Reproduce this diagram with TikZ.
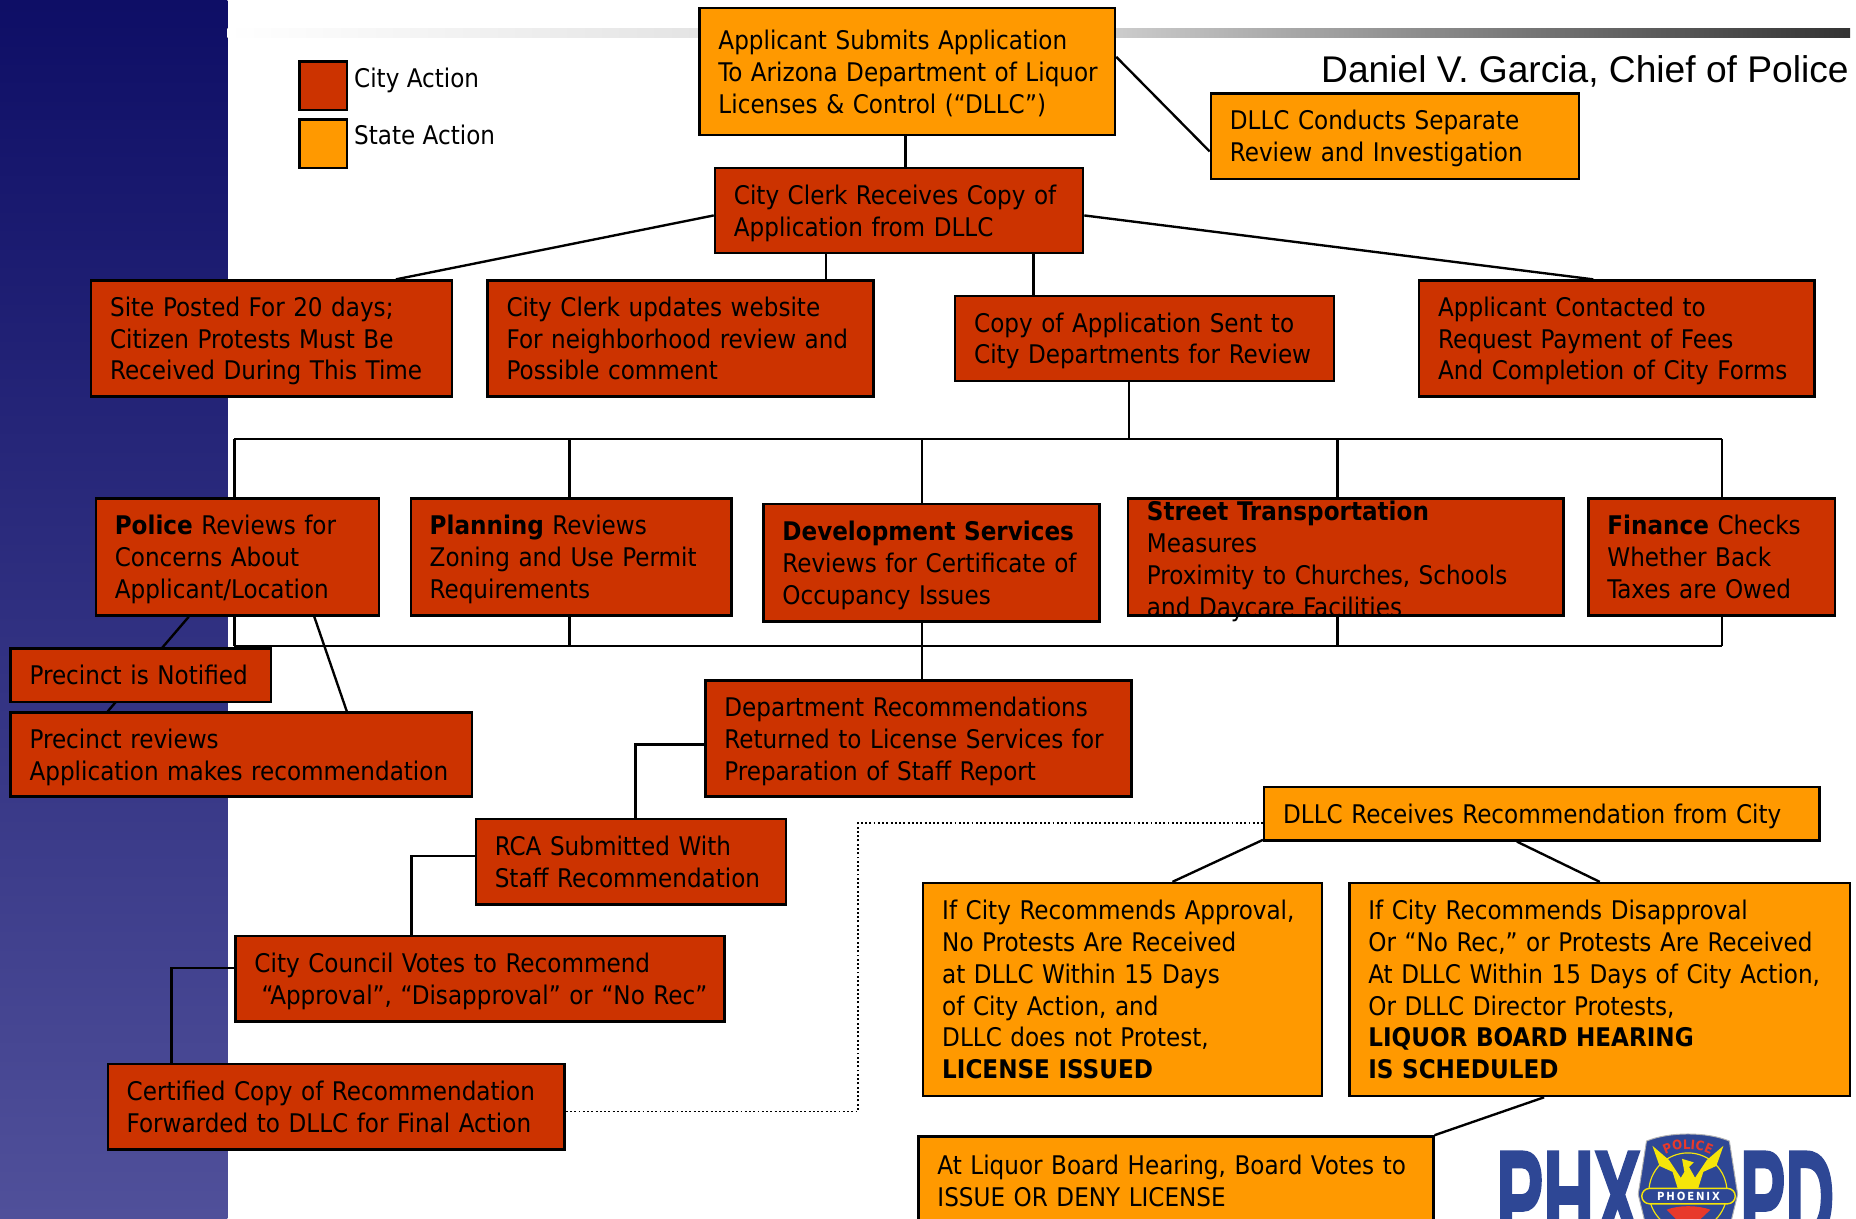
\documentclass[tikz,border=0pt]{standalone}
\usepackage{fontspec}
\setmainfont{DejaVu Sans Condensed}
\newfontfamily\titlefont{Liberation Sans}
\newfontfamily\logofont{Liberation Sans Bold}[FakeBold=2.5]
\usetikzlibrary{backgrounds,shadows,decorations.text}
\definecolor{cityred}{HTML}{CC3300}
\definecolor{stateorange}{HTML}{FF9900}
\definecolor{stripnavy}{HTML}{0E0E66}
\definecolor{stripblue}{HTML}{50509A}
\definecolor{barlight}{HTML}{CCCCCC}
\definecolor{bardark}{HTML}{333333}
\definecolor{logoblue}{HTML}{2E4795}
\definecolor{logoyellow}{HTML}{F5E50A}
\definecolor{logored}{HTML}{E8392B}
\tikzset{
  lines/.style={align=left,font=\fontsize{21.7}{27}\selectfont,
    execute at begin node={\rule{0pt}{22pt}},execute at end node={\rule[-6pt]{0pt}{6pt}}},
  action/.style={lines,rectangle,draw=black,line width=2pt,anchor=north west,inner xsep=16pt,inner ysep=0pt,
    general shadow={fill=black!35,shadow xshift=.8pt,shadow yshift=-.8pt}},
  city/.style={action,fill=cityred},
  state/.style={action,fill=stateorange},
  swatch/.style={rectangle,draw=black,line width=2pt,anchor=north west,minimum width=40pt,minimum height=41pt},
  label/.style={anchor=west,inner sep=0pt,font=\fontsize{21.7}{27}\selectfont},
  link/.style={draw=black,line width=2pt}
}
\begin{document}
\begin{tikzpicture}[x=1pt,y=-1pt]
  \useasboundingbox (0,0) rectangle (1568,1029);

  \node[swatch,fill=cityred] (citykey) at (252,51) {};
  \node[swatch,fill=stateorange] (statekey) at (252,100) {};
  \node[label] (citylabel) at (299,68) {City Action};
  \node[label] (statelabel) at (299,114) {State Action};
  \node[anchor=east,inner sep=0pt,font=\titlefont\fontsize{31.4}{36}\selectfont] (chief) at (1562,60) {Daniel V. Garcia, Chief of Police};

  \node[state,text width=319pt,minimum height=107pt] (submit) at (590,6) {Applicant Submits Application\\\mbox{To Arizona Department of Liquor}\\Licenses \& Control (“DLLC”)};
  \node[state,text width=279pt,minimum height=72pt] (dllc) at (1022,78) {DLLC Conducts Separate\\Review and Investigation};
  \node[city,text width=279pt,minimum height=72pt] (clerk) at (603,141) {City Clerk Receives Copy of\\Application from DLLC};

  \node[city,text width=273pt,minimum height=98pt] (site) at (76,236) {Site Posted For 20 days;\\Citizen Protests Must Be\\Received During This Time};
  \node[city,text width=294pt,minimum height=98pt] (website) at (411,236) {City Clerk updates website\\For neighborhood review and\\Possible comment};
  \node[city,text width=288pt,minimum height=72pt] (copy) at (806,249) {Copy of Application Sent to\\City Departments for Review};
  \node[city,text width=302pt,minimum height=98pt] (contact) at (1198,236) {Applicant Contacted to\\Request Payment of Fees\\And Completion of City Forms};

  \node[city,text width=207pt,minimum height=99pt] (police) at (80,420) {\textbf{Police} Reviews for\\Concerns About\\Applicant/Location};
  \node[city,text width=239pt,minimum height=99pt] (planning) at (346,420) {\textbf{Planning} Reviews\\Zoning and Use Permit\\Requirements};
  \node[city,text width=252pt,minimum height=99pt] (dev) at (644,425) {\textbf{Development Services}\\Reviews for Certificate of\\Occupancy Issues};
  \node[city,execute at begin node={},execute at end node={},text width=336pt,minimum height=99pt] (street) at (952,420) {};
  \node[lines,anchor=center,inner sep=0pt,text width=336pt] (streettext) at ([yshift=-2pt]street.center) {\textbf{Street Transportation}\\Measures\\Proximity to Churches, Schools\\and Daycare Facilities};
  \node[city,text width=176pt,minimum height=99pt] (finance) at (1341,420) {\textbf{Finance} Checks\\Whether Back\\Taxes are Owed};

  \node[city,text width=188pt,minimum height=45pt] (notified) at (8,547) {Precinct is Notified};
  \node[city,text width=358pt,minimum height=71pt] (reviews) at (8,601) {Precinct reviews\\Application makes recommendation};
  \node[city,text width=328pt,minimum height=98pt] (returned) at (595,574) {Department Recommendations\\Returned to License Services for\\Preparation of Staff Report};
  \node[city,text width=230pt,minimum height=72pt] (rca) at (401,691) {RCA Submitted With\\Staff Recommendation};
  \node[city,text width=381pt,minimum height=72pt] (council) at (198,790) {City Council Votes to Recommend\\\mbox{\hspace*{6pt}“Approval”, “Disapproval” or “No Rec”}};
  \node[city,text width=354pt,minimum height=72pt] (certified) at (90,898) {Certified Copy of Recommendation\\Forwarded to DLLC for Final Action};

  \node[state,text width=437pt,minimum height=45pt] (receives) at (1067,664) {DLLC Receives Recommendation from City};
  \node[state,text width=305pt,minimum height=180pt] (approval) at (779,745) {If City Recommends Approval,\\No Protests Are Received\\at DLLC Within 15 Days\\of City Action, and\\DLLC does not Protest,\\\textbf{LICENSE ISSUED}};
  \node[state,text width=391pt,minimum height=180pt] (disapproval) at (1139,745) {If City Recommends Disapproval\\Or “No Rec,” or Protests Are Received\\At DLLC Within 15 Days of City Action,\\Or DLLC Director Protests,\\\textbf{LIQUOR BOARD HEARING}\\\textbf{IS SCHEDULED}};
  \node[state,text width=403pt,minimum height=75pt] (board) at (775,959) {At Liquor Board Hearing, Board Votes to\\ISSUE OR DENY LICENSE};

  \begin{scope}[on background layer]
    \fill[top color=stripnavy,bottom color=stripblue] (0,0) rectangle (192,1029);
    \fill[left color=white,right color=barlight] (192,24) rectangle (942,32);
    \fill[left color=barlight,right color=bardark] (942,24) rectangle (1563,32);

    \coordinate (bustop) at (954,371);
    \coordinate (busbottom) at (779,546);
    \coordinate (dotcorner) at (725,695);

    \draw[link] (765,0 |- submit.south) -- (765,0 |- clerk.north);
    \draw[link] ([yshift=12.5pt]submit.east) -- ([yshift=-13pt]dllc.west);
    \draw[link] ([yshift=-4pt]clerk.west) -- ([xshift=105pt]site.north);
    \draw[link] (698,0 |- clerk.south) -- (698,0 |- website.north);
    \draw[link] (873,0 |- clerk.south) -- (873,0 |- copy.north);
    \draw[link] ([yshift=-4pt]clerk.east) -- ([xshift=-20pt]contact.north);
    \draw[link] (954,0 |- copy.south) -- (bustop);
    \draw[link] (198,0 |- bustop) -- (1455,0 |- bustop);
    \draw[link] (198,0 |- busbottom) -- (1455,0 |- busbottom);
    \foreach \dept/\xpos in {police/198,planning/481,dev/779,street/1130,finance/1455}
      \draw[link] (\xpos,0 |- bustop) -- (\xpos,0 |- \dept.north);
    \foreach \dept/\xpos in {police/198,planning/481,street/1130,finance/1455}
      \draw[link] (\xpos,0 |- \dept.south) -- (\xpos,0 |- busbottom);
    \draw[link] (779,0 |- dev.south) -- (779,0 |- returned.north);

    \draw[link] ([xshift=-41pt]police.south) -- ([xshift=-113pt]reviews.north);
    \draw[link] ([xshift=65pt]police.south) -- ([xshift=89pt]reviews.north);
    \draw[link] ([yshift=-5pt]returned.west) -| ([xshift=4pt]rca.north);
    \draw[link] ([yshift=5pt]rca.west) -| ([xshift=-58pt]council.north);
    \draw[link] ([yshift=9pt]council.west) -| ([xshift=-139pt]certified.north);
    \draw[black,line width=1.6pt,dotted] ([yshift=-4pt]certified.east) -| (dotcorner) -- (receives.west |- dotcorner);
    \draw[link] ([yshift=-22pt]receives.west) -- ([xshift=42pt]approval.north);
    \draw[link] ([xshift=-21pt]receives.south) -- (disapproval.north);
    \draw[link] ([xshift=-47pt]disapproval.south) -- (board.north east);
  \end{scope}

  \node[anchor=base west,inner sep=0pt,text=logoblue,font=\logofont\fontsize{110}{110}\selectfont] (phx) at (1264,1049) {\scalebox{.54}[1]{PHX}};
  \node[anchor=base west,inner sep=0pt,text=logoblue,font=\logofont\fontsize{110}{110}\selectfont] (pd) at (1470,1049) {\scalebox{.52}[1]{PD}};
  \draw[black!30,line width=.8pt,fill=logoblue] (1391,964) .. controls (1410,956) and (1442,956) .. (1461,964) -- (1468,1009) -- (1460,1042) -- (1426,1062) -- (1392,1042) -- (1384,1009) -- cycle;
  \draw[logoyellow,line width=1pt] (1426,1007) circle (33pt);
  \fill[logoyellow] (1396,968) -- (1402,985) -- (1413,990) -- (1418,1006) -- (1434,1006) -- (1439,990) -- (1450,985) -- (1456,968) -- (1442,980) -- (1432,995) -- (1427,986) -- (1431,982) -- (1421,979) -- (1423,990) -- (1420,995) -- (1410,980) -- cycle;
  \fill[logored] (1408,1022) .. controls (1418,1018) and (1434,1018) .. (1445,1022) -- (1426,1040) -- cycle;
  \draw[logoyellow,line width=1.2pt,fill=logoblue,rounded corners=6.5pt] (1387,1004) rectangle (1466,1017);
  \node[text=white,inner sep=0pt,font=\bfseries\fontsize{9.5}{10}\selectfont] (phoenix) at (1426.5,1010.5) {P\,H\,O\,E\,N\,I\,X};
  \path[decorate,decoration={text along path,text align=center,text={|\color{logored}\bfseries\fontsize{11}{12}\selectfont|POLICE}}] (1402,979) .. controls (1412,968) and (1440,968) .. (1450,979);
\end{tikzpicture}
\end{document}
